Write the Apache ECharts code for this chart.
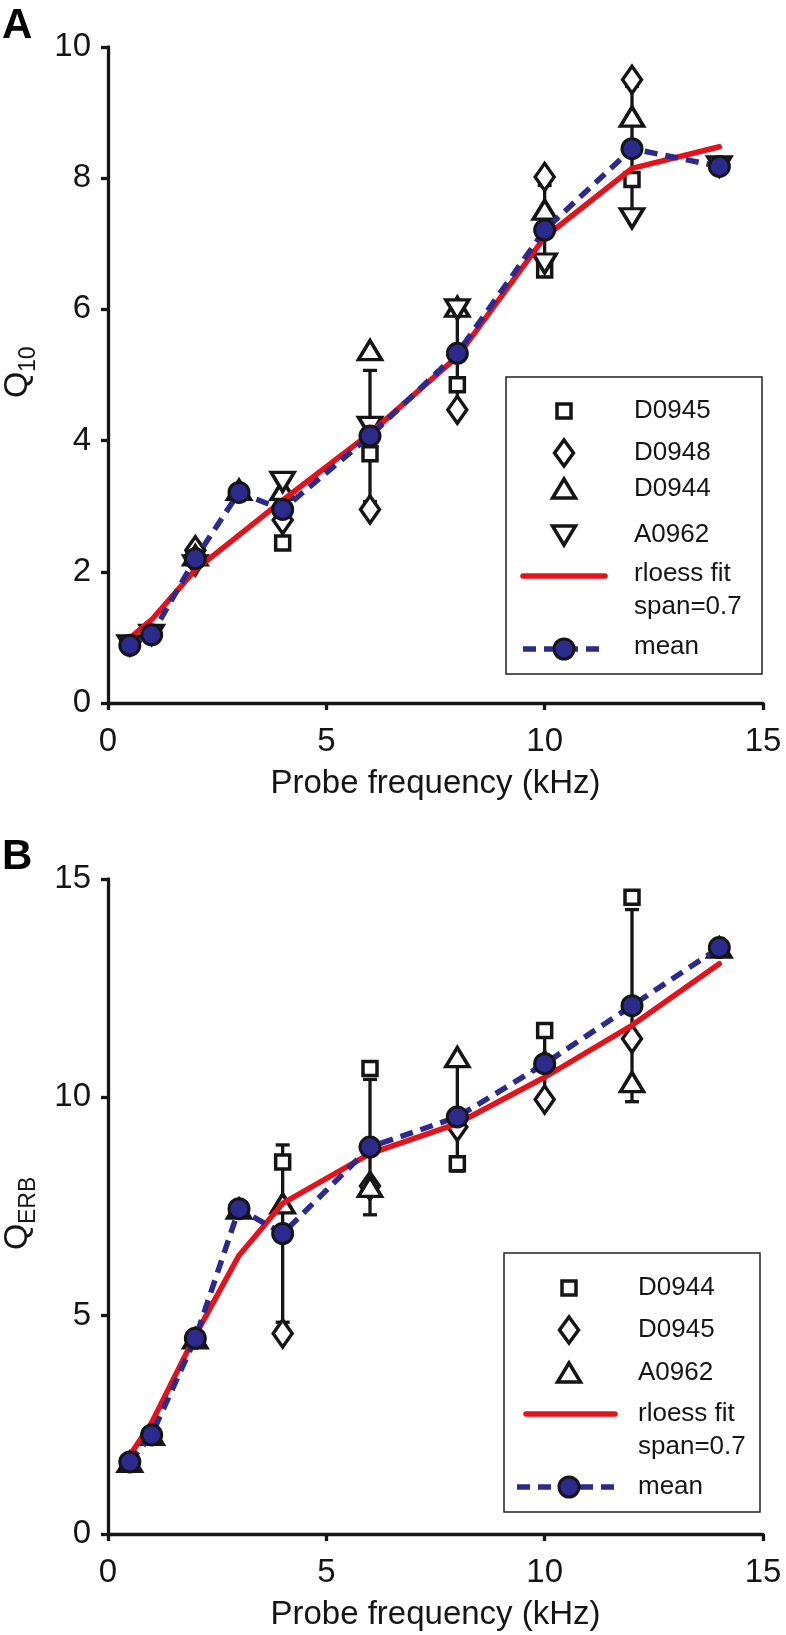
<!DOCTYPE html>
<html><head><meta charset="utf-8">
<script src="https://cdn.jsdelivr.net/npm/echarts@6/dist/echarts.min.js"></script>
<style>html,body{margin:0;padding:0;background:#fff}#c{width:786px;height:1635px}</style>
</head><body><div id="c"></div>
<script>
// ---------- Panel A (Q10) ----------
const freqA = [0.5, 1, 2, 3, 4, 6, 8, 10, 12, 14];
const meanA = [0.88, 1.04, 2.2, 3.21, 2.95, 4.07, 5.33, 7.21, 8.45, 8.18];
const fitA  = [0.99, 1.27, 2.03, 2.56, 3.09, 4.11, 5.28, 7.1, 8.15, 8.48];
const sdA   = [null, null, null, null, 0.43, 1.0, 0.8, 0.68, 0.95, null];
const A_D0945 = [[4, 2.44], [6, 3.8], [8, 4.85], [10, 6.6], [12, 7.98]];
const A_D0948 = [[2, 2.33], [4, 2.79], [6, 2.95], [8, 4.47], [10, 8.02], [12, 9.5]];
const A_D0944 = [[2, 2.25], [3, 3.25], [4, 3.25], [6, 5.38], [8, 6.04], [10, 7.52], [12, 8.94]];
const A_A0962 = [[0.5, 0.88], [1, 1.04], [2, 2.1], [4, 3.37], [6, 4.21], [8, 6.0], [10, 6.7], [12, 7.39], [14, 8.18]];

// ---------- Panel B (QERB) ----------
const freqB = [0.5, 1, 2, 3, 4, 6, 8, 10, 12, 14];
const meanB = [1.65, 2.27, 4.48, 7.45, 6.88, 8.86, 9.55, 10.77, 12.1, 13.43];
const fitB  = [1.8, 2.55, 4.55, 6.38, 7.57, 8.71, 9.4, 10.46, 11.65, 13.06];
const sdB   = [null, null, null, null, 2.03, 1.55, 1.24, 0.79, 2.2, null];
const B_D0944 = [[4, 8.52], [6, 10.66], [8, 8.48], [10, 11.53], [12, 14.58]];
const B_D0945 = [[4, 4.59], [6, 7.97], [8, 9.32], [10, 9.95], [12, 11.34]];
const B_A0962 = [[0.5, 1.65], [1, 2.27], [2, 4.48], [3, 7.45], [4, 7.57], [6, 7.95], [8, 10.92], [10, 10.83], [12, 10.35], [14, 13.43]];

const xTicks = [0, 5, 10, 15];
const yTicksA = [0, 2, 4, 6, 8, 10];
const yTicksB = [0, 5, 10, 15];

const INK = '#151515', RED = '#e3121b', NAVY = '#2d2a8e';
const FONT = '"Liberation Sans", Arial, Helvetica, sans-serif';

const zip = (xs, ys) => xs.map((x, i) => [x, ys[i]]);
const errData = (xs, m, s) => xs.map((x, i) => s[i] == null ? null : [x, m[i], s[i]]).filter(Boolean);

function errSeries(ai, data) {
  return {
    type: 'custom', xAxisIndex: ai, yAxisIndex: ai, z: 2, data,
    renderItem(params, api) {
      const x = api.value(0), m = api.value(1), s = api.value(2);
      const p1 = api.coord([x, m + s]), p2 = api.coord([x, m - s]);
      const hw = 7, st = { stroke: INK, lineWidth: 3.3 };
      return { type: 'group', children: [
        { type: 'line', shape: { x1: p1[0], y1: p1[1], x2: p2[0], y2: p2[1] }, style: st },
        { type: 'line', shape: { x1: p1[0] - hw, y1: p1[1], x2: p1[0] + hw, y2: p1[1] }, style: st },
        { type: 'line', shape: { x1: p2[0] - hw, y1: p2[1], x2: p2[0] + hw, y2: p2[1] }, style: st }
      ]};
    }
  };
}
const SYM = {
  square: { symbol: 'rect', symbolSize: 14 },
  diamond: { symbol: 'diamond', symbolSize: [19, 27] },
  tri: { symbol: 'triangle', symbolSize: [23, 19] },
  down: { symbol: 'triangle', symbolSize: [23, 19], symbolRotate: 180 }
};
function scat(ai, name, data, kind) {
  return Object.assign({
    type: 'scatter', name, xAxisIndex: ai, yAxisIndex: ai, data, z: 3,
    itemStyle: { color: '#fff', borderColor: INK, borderWidth: 3.5, opacity: 1 }
  }, SYM[kind]);
}
function fit(ai, xs, ys) {
  return { type: 'line', xAxisIndex: ai, yAxisIndex: ai, data: zip(xs, ys), symbol: 'none', z: 4,
    lineStyle: { color: RED, width: 5.5, cap: 'round' } };
}
function mean(ai, xs, ys) {
  return { type: 'line', xAxisIndex: ai, yAxisIndex: ai, data: zip(xs, ys), z: 5,
    symbol: 'circle', symbolSize: 20, showSymbol: true,
    itemStyle: { color: NAVY, borderColor: INK, borderWidth: 3 },
    lineStyle: { color: NAVY, width: 5.5, type: [13, 8] } };
}
function xAx(gi) {
  return { type: 'value', gridIndex: gi, min: 0, max: 15, interval: 5,
    name: 'Probe frequency (kHz)', nameLocation: 'middle', nameGap: 64,
    nameTextStyle: { fontSize: 33, color: INK, fontFamily: FONT },
    axisLine: { lineStyle: { color: INK, width: 3.3 } },
    axisTick: { length: 7, lineStyle: { color: INK, width: 3.3 } },
    axisLabel: { fontSize: 33, color: INK, fontFamily: FONT, margin: 22,
      formatter: v => xTicks.includes(v) ? String(v) : '' },
    splitLine: { show: false } };
}
function yAx(gi, max, interval, ticks) {
  return { type: 'value', gridIndex: gi, min: 0, max, interval,
    axisLine: { show: true, lineStyle: { color: INK, width: 3.3 } },
    axisTick: { show: true, length: 7, lineStyle: { color: INK, width: 3.3 } },
    axisLabel: { fontSize: 33, color: INK, fontFamily: FONT, margin: 17,
      formatter: v => ticks.includes(v) ? String(v) : '' },
    splitLine: { show: false } };
}

// legend helpers (graphic)
const tstyle = (text, x, y, fs, extra) => Object.assign({ type: 'text', x, y,
  style: { text, fill: INK, font: fs + 'px ' + FONT, textVerticalAlign: 'middle', textAlign: 'left' } }, extra || {});
const gSquare = (cx, cy) => ({ type: 'rect', shape: { x: cx - 7, y: cy - 7, width: 14, height: 14 }, style: { fill: '#fff', stroke: INK, lineWidth: 3.5 } });
const gDiamond = (cx, cy) => ({ type: 'polygon', shape: { points: [[cx, cy - 13], [cx + 9.5, cy], [cx, cy + 13], [cx - 9.5, cy]] }, style: { fill: '#fff', stroke: INK, lineWidth: 3.5 } });
const gTri = (cx, cy) => ({ type: 'polygon', shape: { points: [[cx, cy - 10], [cx + 11.5, cy + 9], [cx - 11.5, cy + 9]] }, style: { fill: '#fff', stroke: INK, lineWidth: 3.5 } });
const gDown = (cx, cy) => ({ type: 'polygon', shape: { points: [[cx - 11.5, cy - 9], [cx + 11.5, cy - 9], [cx, cy + 10]] }, style: { fill: '#fff', stroke: INK, lineWidth: 3.5 } });
const gRed = (x1, x2, y) => ({ type: 'line', shape: { x1, y1: y, x2, y2: y }, style: { stroke: RED, lineWidth: 5.5, lineCap: 'round' } });
const gMean = (x1, x2, cx, y) => ([
  { type: 'line', shape: { x1, y1: y, x2, y2: y }, style: { stroke: NAVY, lineWidth: 5.5, lineDash: [13, 8] } },
  { type: 'circle', shape: { cx, cy: y, r: 10 }, style: { fill: NAVY, stroke: INK, lineWidth: 3 } }
]);
function yTitle(x, y, main, sub) {
  return { type: 'group', x, y, rotation: Math.PI / 2, children: [
    { type: 'text', x: 0, y: 0, style: { text: main, fill: INK, font: '34px ' + FONT, textVerticalAlign: 'middle', textAlign: 'left' } },
    { type: 'text', x: 26, y: 11, style: { text: sub, fill: INK, font: '23px ' + FONT, textVerticalAlign: 'middle', textAlign: 'left' } }
  ]};
}

const graphic = [
  tstyle('A', 2, 26, 42, { style: { text: 'A', fill: '#000', font: 'bold 42px ' + FONT, textVerticalAlign: 'middle' } }),
  tstyle('B', 2, 857, 42, { style: { text: 'B', fill: '#000', font: 'bold 42px ' + FONT, textVerticalAlign: 'middle' } }),
  yTitle(18, 398, 'Q', '10'),
  yTitle(18, 1250, 'Q', 'ERB'),
  // Legend A
  { type: 'rect', shape: { x: 506, y: 377, width: 256, height: 297 }, style: { fill: '#fff', stroke: '#222', lineWidth: 1.5 }, z: 10 },
  Object.assign(gSquare(564, 411), { z: 11 }), Object.assign(gDiamond(564, 453), { z: 11 }),
  Object.assign(gTri(564, 489), { z: 11 }), Object.assign(gDown(564, 535), { z: 11 }),
  Object.assign(gRed(523, 605, 576), { z: 11 }),
  ...gMean(523, 605, 564, 649).map(e => Object.assign(e, { z: 11 })),
  ...[['D0945', 411], ['D0948', 453], ['D0944', 489], ['A0962', 535], ['rloess fit', 574], ['span=0.7', 607], ['mean', 647]]
    .map(([t, y]) => tstyle(t, 634, y, 26, { z: 11 })),
  // Legend B
  { type: 'rect', shape: { x: 504, y: 1253, width: 256, height: 259 }, style: { fill: '#fff', stroke: '#222', lineWidth: 1.5 }, z: 10 },
  Object.assign(gSquare(569, 1288), { z: 11 }), Object.assign(gDiamond(569, 1330), { z: 11 }),
  Object.assign(gTri(569, 1373), { z: 11 }),
  Object.assign(gRed(526, 615, 1414), { z: 11 }),
  ...gMean(517, 617, 569, 1487).map(e => Object.assign(e, { z: 11 })),
  ...[['D0944', 1288], ['D0945', 1330], ['A0962', 1373], ['rloess fit', 1414], ['span=0.7', 1447], ['mean', 1487]]
    .map(([t, y]) => tstyle(t, 638, y, 26, { z: 11 }))
];

const option = {
  animation: false,
  backgroundColor: '#fff',
  grid: [
    { left: 108, top: 47, width: 655, height: 656 },
    { left: 108, top: 879, width: 655, height: 655 }
  ],
  xAxis: [xAx(0), xAx(1)],
  yAxis: [yAx(0, 10, 2, yTicksA), yAx(1, 15, 5, yTicksB)],
  series: [
    errSeries(0, errData(freqA, meanA, sdA)),
    scat(0, 'D0945', A_D0945, 'square'),
    scat(0, 'D0948', A_D0948, 'diamond'),
    scat(0, 'D0944', A_D0944, 'tri'),
    scat(0, 'A0962', A_A0962, 'down'),
    fit(0, freqA, fitA),
    mean(0, freqA, meanA),
    errSeries(1, errData(freqB, meanB, sdB)),
    scat(1, 'D0944', B_D0944, 'square'),
    scat(1, 'D0945', B_D0945, 'diamond'),
    scat(1, 'A0962', B_A0962, 'tri'),
    fit(1, freqB, fitB),
    mean(1, freqB, meanB)
  ],
  graphic
};
echarts.init(document.getElementById('c'), null, { renderer: 'canvas' }).setOption(option);
</script></body></html>
